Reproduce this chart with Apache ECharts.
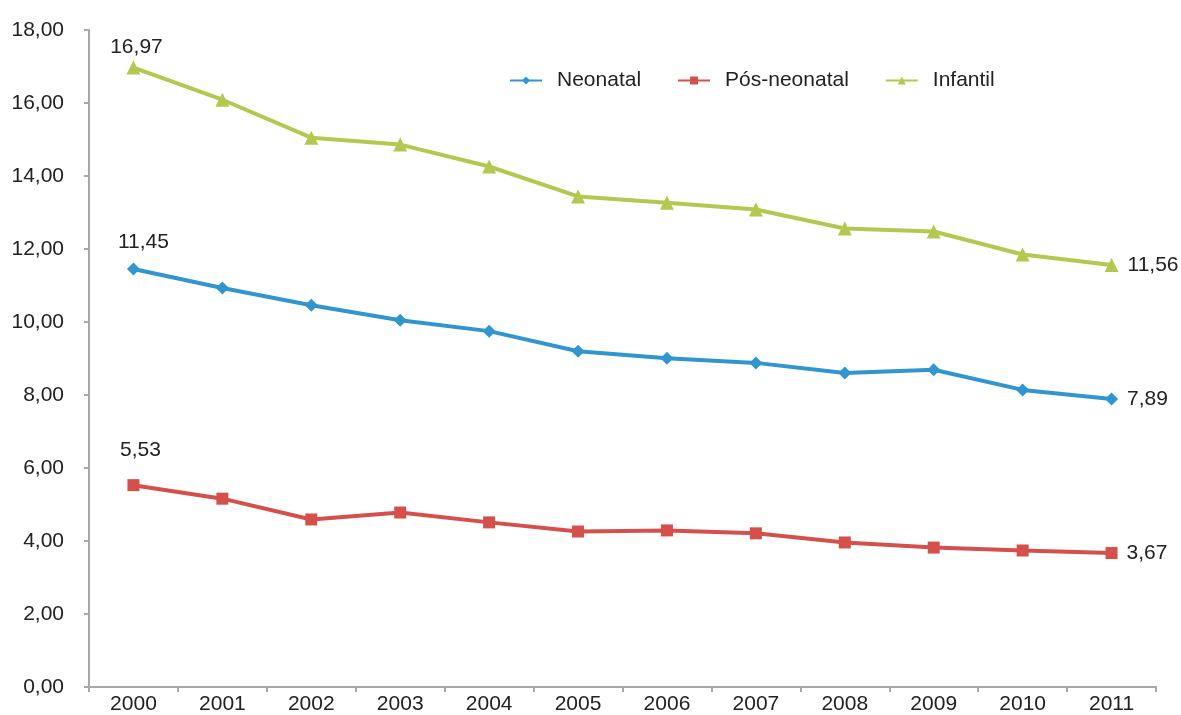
<!DOCTYPE html>
<html>
<head>
<meta charset="utf-8">
<script src="https://cdn.jsdelivr.net/npm/echarts@6/dist/echarts.min.js"></script>
<style>
  html, body { margin: 0; padding: 0; background: #fff; }
  #chart { width: 1181px; height: 715px; }
</style>
</head>
<body>
<div id="chart"></div>
<script>
var years = ['2000', '2001', '2002', '2003', '2004', '2005', '2006', '2007', '2008', '2009', '2010', '2011'];
var neonatal = [11.45, 10.93, 10.46, 10.05, 9.75, 9.20, 9.01, 8.88, 8.60, 8.69, 8.14, 7.89];
var posNeonatal = [5.53, 5.16, 4.59, 4.78, 4.51, 4.26, 4.29, 4.21, 3.96, 3.82, 3.74, 3.67];
var infantil = [16.97, 16.09, 15.05, 14.86, 14.26, 13.44, 13.27, 13.08, 12.56, 12.48, 11.85, 11.56];

var FONT = 'Liberation Sans, Arial, sans-serif';
var fmt = function (v) { return v.toFixed(2).replace('.', ','); };

// only first and last point get a label (like the excel original)
function withLabels(values, topDist, dx) {
  return values.map(function (v, i) {
    if (i === 0) {
      return { value: v, label: { show: true, position: 'top', distance: topDist, offset: [dx, 0] } };
    }
    if (i === values.length - 1) {
      return { value: v, label: { show: true, position: 'right', distance: 9 } };
    }
    return v;
  });
}

var labelStyle = {
  color: '#222',
  fontSize: 21,
  fontFamily: FONT,
  formatter: function (p) { return fmt(p.value); }
};

var myChart = echarts.init(document.getElementById('chart'));
var option = {
  animation: false,
  grid: { left: 89, right: 25, top: 30, bottom: 26 },
  legend: {
    left: 504,
    top: 65,
    itemGap: 36,
    itemWidth: 32,
    itemHeight: 10,
    textStyle: { color: '#222', fontSize: 21, fontFamily: FONT, padding: [0, 0, 0, 10] },
    data: ['Neonatal', 'Pós-neonatal', 'Infantil']
  },
  xAxis: {
    type: 'category',
    data: years,
    boundaryGap: true,
    axisLine: { lineStyle: { color: '#a8a8a8', width: 2 } },
    axisTick: { show: true, length: 5, lineStyle: { color: '#a8a8a8', width: 2 } },
    axisLabel: { color: '#222', fontSize: 21, margin: 7, fontFamily: FONT },
    splitLine: { show: false }
  },
  yAxis: {
    type: 'value',
    min: 0,
    max: 18,
    interval: 2,
    axisLine: { show: true, lineStyle: { color: '#a8a8a8', width: 2 } },
    axisTick: { show: true, length: 5, lineStyle: { color: '#a8a8a8', width: 2 } },
    axisLabel: { color: '#222', fontSize: 21, margin: 25, fontFamily: FONT, formatter: fmt },
    splitLine: { show: false }
  },
  series: [
    {
      name: 'Neonatal',
      type: 'line',
      data: withLabels(neonatal, 10, 10),
      symbol: 'diamond',
      symbolSize: 13,
      color: '#3196cf',
      lineStyle: { width: 4 },
      label: labelStyle
    },
    {
      name: 'Pós-neonatal',
      type: 'line',
      data: withLabels(posNeonatal, 18, 7),
      symbol: 'rect',
      symbolSize: 12,
      color: '#d6504b',
      lineStyle: { width: 4 },
      label: labelStyle
    },
    {
      name: 'Infantil',
      type: 'line',
      data: withLabels(infantil, 3, 3),
      symbol: 'triangle',
      symbolSize: 14,
      color: '#b4c84f',
      lineStyle: { width: 4 },
      label: labelStyle
    }
  ]
};
myChart.setOption(option);
</script>
</body>
</html>
